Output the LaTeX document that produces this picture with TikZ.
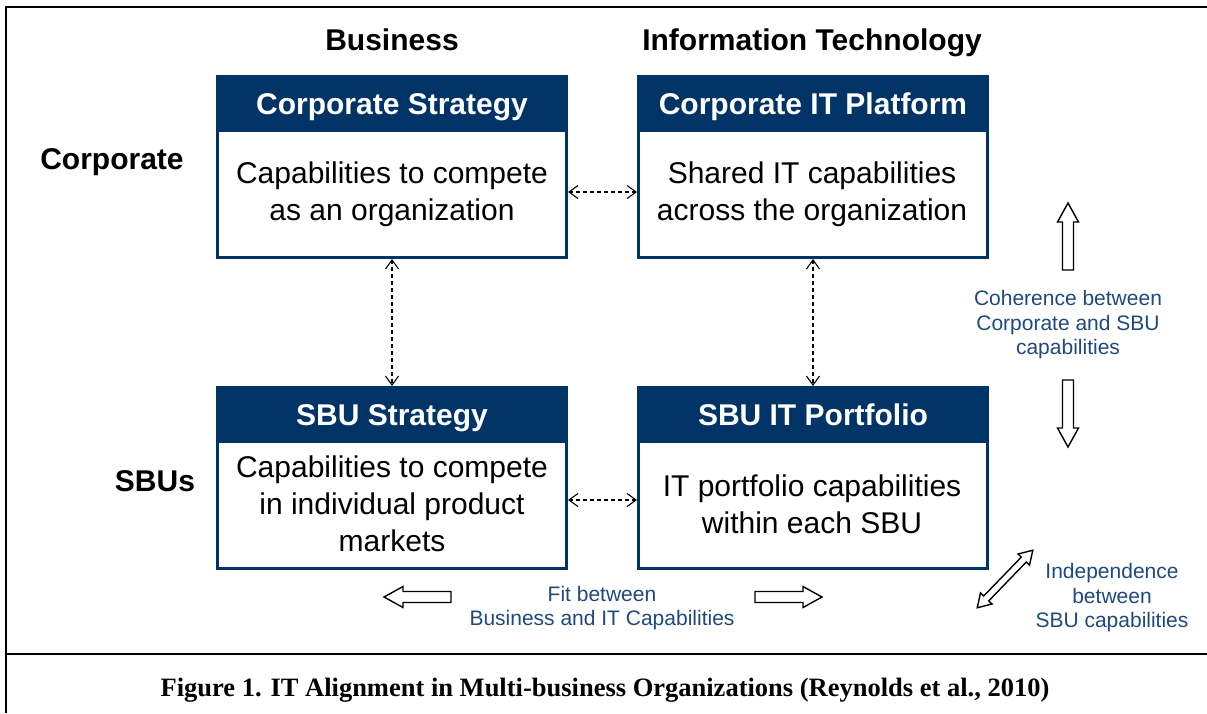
\documentclass[tikz,border=0pt]{standalone}
\usepackage{fontspec}
\setmainfont{Liberation Sans}
\newfontfamily\captionserif{Liberation Serif}
\usetikzlibrary{arrows.meta}
\definecolor{navy}{RGB}{0,51,102}
\definecolor{noteblue}{RGB}{31,73,125}
\tikzset{
    box/.style={draw=navy,line width=3pt,fill=white,minimum width=349pt,minimum height=181pt,anchor=north west,inner sep=0pt},
    head/.style={draw=navy,fill=navy,line width=3pt,text=white,font=\fontsize{30}{36}\selectfont\bfseries,
        minimum width=349pt,minimum height=54pt,text height=22pt,text depth=0pt,anchor=north,inner sep=0pt},
    body/.style={align=center,font=\fontsize{30}{37}\selectfont},
    label/.style={font=\fontsize{30}{36}\selectfont\bfseries,anchor=base},
    note/.style={align=center,text=noteblue,font=\fontsize{21}{24.5}\selectfont},
    link/.style={line width=1.1pt,dash pattern=on 4pt off 3pt,
        {Straight Barb[length=9pt,width=13pt]}-{Straight Barb[length=9pt,width=13pt]}},
    hollow/.style={draw=black,line width=1.4pt,fill=white,line join=miter},
    pics/fatarrow/.style={code={
        \draw[hollow] (0,-5.5) -- ({#1-19},-5.5) -- ({#1-19},-10.5) -- (#1,0)
            -- ({#1-19},10.5) -- ({#1-19},5.5) -- (0,5.5) -- cycle;}},
    pics/twinarrow/.style={code={
        \draw[hollow] ({-#1/2},0) -- ({-#1/2+13},-8) -- ({-#1/2+13},-3.5) -- ({#1/2-13},-3.5) -- ({#1/2-13},-8)
            -- ({#1/2},0) -- ({#1/2-13},8) -- ({#1/2-13},3.5) -- ({-#1/2+13},3.5) -- ({-#1/2+13},8) -- cycle;}}
}
\begin{document}
\begin{tikzpicture}[x=1pt,y=1pt]
    \useasboundingbox (0,0) rectangle (1207,-713);
    %% frame
    \draw[line width=2.6pt] (1207,-7) -- (6,-7) -- (6,-713);
    \draw[line width=2.6pt] (6,-654) -- (1207,-654);
    %% headings
    \node[label] (business) at (392,-50) {Business};
    \node[label] (infotech) at (812,-50) {Information Technology};
    \node[label] (corporate) at (112,-169) {Corporate};
    \node[label] (sbus) at (155,-491) {SBUs};
    %% boxes
    \foreach \n/\x/\y/\title in {cs/216/-75/Corporate Strategy,cit/637/-75/Corporate IT Platform,
                                 ss/216/-386/SBU Strategy,sit/637/-386/SBU IT Portfolio} {
        \node[box] (\n) at (\x,\y) {};
        \node[head] (\n head) at (\n.north) {\title};
    }
    \node[body] (cstext) at (392,-194) {Capabilities to compete\\as an organization};
    \node[body] (cittext) at (812,-194) {Shared IT capabilities\\across the organization};
    \node[body] (sstext) at (392,-504) {Capabilities to compete\\in individual product\\markets};
    \node[body] (sittext) at (812,-504) {IT portfolio capabilities\\within each SBU};
    %% links
    \draw[link] ([yshift=-25pt]cs.east) -- ([yshift=-25pt]cit.west);
    \draw[link] ([yshift=-22pt]ss.east) -- ([yshift=-22pt]sit.west);
    \draw[link] (cs.south) -- (ss.north);
    \draw[link] (cit.south) -- (sit.north);
    %% hollow arrows and notes
    \pic[rotate=90] at (1068,-270) {fatarrow=67};
    \pic[rotate=-90] at (1068,-380) {fatarrow=67};
    \pic[rotate=180] at (451,-597) {fatarrow=67};
    \pic at (755,-597) {fatarrow=67};
    \pic[rotate=46] at (1005,-579) {twinarrow=80};
    \node[note] (coherence) at (1068,-325) {Coherence between\\Corporate and SBU\\capabilities};
    \node[note] (independence) at (1112,-598) {Independence\\between\\SBU capabilities};
    \node[note] (fit) at (602,-608) {Fit between\\Business and IT Capabilities};
    %% caption
    \node[font=\captionserif\bfseries\fontsize{26.5}{30}\selectfont,anchor=base] (caption) at (605,-696)
        {Figure 1. IT Alignment in Multi-business Organizations (Reynolds et al., 2010)};
\end{tikzpicture}
\end{document}
